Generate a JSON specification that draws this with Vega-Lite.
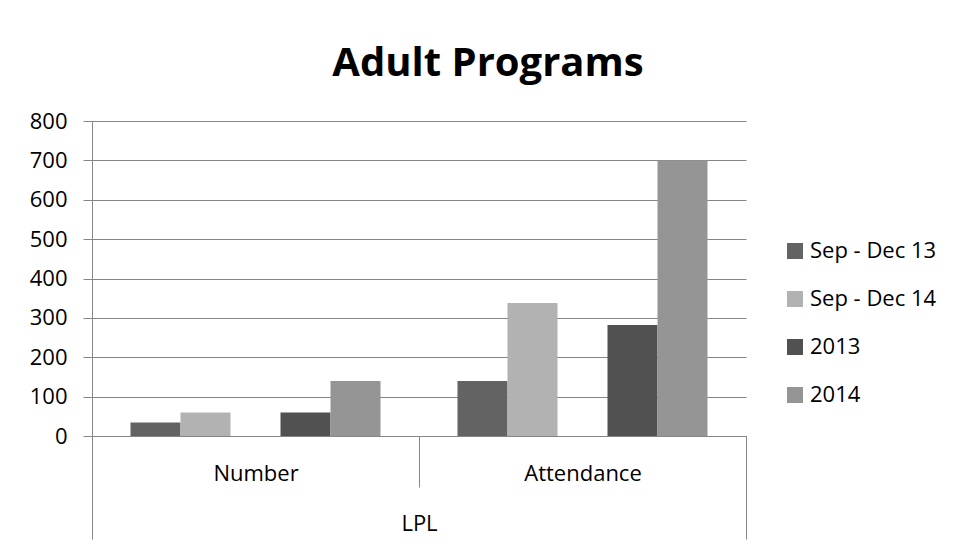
{
  "$schema": "https://vega.github.io/schema/vega-lite/v6.json",
  "width": 654,
  "height": 315,
  "autosize": {"type": "none"},
  "padding": {"left": 92, "top": 121, "right": 210, "bottom": 115},
  "background": "white",
  "title": {
    "text": "Adult Programs",
    "font": "Open Sans",
    "fontSize": 40,
    "fontWeight": "bold",
    "color": "#000000",
    "anchor": "middle",
    "frame": "group",
    "dx": 69,
    "dy": 40,
    "offset": 34,
    "baseline": "alphabetic"
  },
  "data": {
    "values": [
      {"group": "LPL", "measure": "Number", "series": "Sep - Dec 13", "value": 34},
      {"group": "LPL", "measure": "Number", "series": "Sep - Dec 14", "value": 60},
      {"group": "LPL", "measure": "Number", "series": "2013", "value": 60},
      {"group": "LPL", "measure": "Number", "series": "2014", "value": 140},
      {"group": "LPL", "measure": "Attendance", "series": "Sep - Dec 13", "value": 140},
      {"group": "LPL", "measure": "Attendance", "series": "Sep - Dec 14", "value": 338},
      {"group": "LPL", "measure": "Attendance", "series": "2013", "value": 282},
      {"group": "LPL", "measure": "Attendance", "series": "2014", "value": 700}
    ]
  },
  "layer": [
    {
      "mark": {"type": "bar"},
      "encoding": {
        "x": {
          "field": "measure",
          "type": "nominal",
          "sort": ["Number", "Attendance"],
          "scale": {"paddingInner": 0, "paddingOuter": 0},
          "axis": {
            "orient": "bottom",
            "title": null,
            "tickBand": "extent",
            "tickSize": 51,
            "labelPadding": -7,
            "labelBaseline": "alphabetic",
            "labelAngle": 0,
            "labelFont": "Open Sans",
            "labelFontSize": 22,
            "labelColor": "#000000",
            "domainColor": "#868686",
            "tickColor": "#868686",
            "grid": false
          }
        },
        "xOffset": {
          "field": "series",
          "type": "nominal",
          "scale": {
            "domain": ["Sep - Dec 13", "Sep - Dec 14", "gap", "2013", "2014"],
            "paddingInner": 0,
            "paddingOuter": 0.77
          }
        },
        "y": {
          "field": "value",
          "type": "quantitative",
          "scale": {"domain": [0, 800]},
          "axis": {
            "title": null,
            "values": [0, 100, 200, 300, 400, 500, 600, 700, 800],
            "tickSize": 9,
            "labelPadding": 16,
            "labelFont": "Open Sans",
            "labelFontSize": 22,
            "labelColor": "#000000",
            "domainColor": "#868686",
            "tickColor": "#868686",
            "grid": true,
            "gridColor": "#868686",
            "gridWidth": 1
          }
        },
        "color": {
          "field": "series",
          "type": "nominal",
          "scale": {
            "domain": ["Sep - Dec 13", "Sep - Dec 14", "2013", "2014"],
            "range": ["#636363", "#b2b2b2", "#515151", "#959595"]
          },
          "legend": {
            "title": null,
            "orient": "none",
            "legendX": 692,
            "legendY": 119,
            "symbolType": "square",
            "symbolSize": 256,
            "symbolStrokeWidth": 0,
            "symbolOpacity": 1,
            "labelFont": "Open Sans",
            "labelFontSize": 22,
            "labelColor": "#000000",
            "labelOffset": 4,
            "rowPadding": 26
          }
        }
      }
    },
    {
      "mark": {"type": "point", "opacity": 0},
      "encoding": {
        "x": {
          "field": "group",
          "type": "nominal",
          "scale": {"paddingInner": 0, "paddingOuter": 0},
          "axis": {
            "orient": "bottom",
            "title": null,
            "tickBand": "extent",
            "tickSize": 103,
            "labelPadding": -9,
            "labelBaseline": "alphabetic",
            "labelAngle": 0,
            "labelFont": "Open Sans",
            "labelFontSize": 22,
            "labelColor": "#000000",
            "domainColor": "#868686",
            "tickColor": "#868686",
            "grid": false
          }
        }
      }
    }
  ],
  "resolve": {"scale": {"x": "independent"}, "axis": {"x": "independent"}},
  "config": {"view": {"stroke": null}}
}
